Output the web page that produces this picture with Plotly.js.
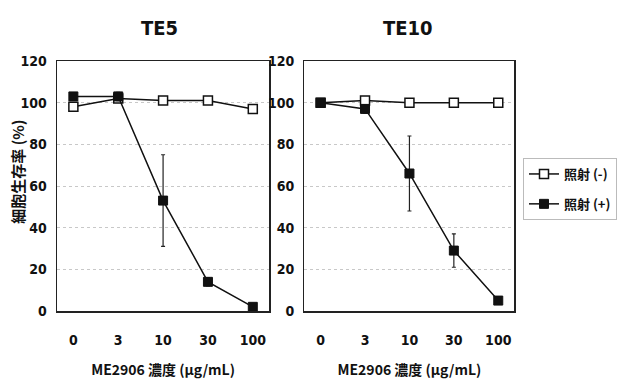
<!DOCTYPE html>
<html><head><meta charset="utf-8">
<script src="https://cdn.plot.ly/plotly-3.0.1.min.js"></script>
<style>html,body{margin:0;padding:0;background:#fff}</style>
</head><body>
<div id="chart" style="width:617px;height:381px"></div>
<script>
const categories = ["0", "3", "10", "30", "100"];
const panelTitles = ["TE5", "TE10"];
const seriesNames = ["照射 (-)", "照射 (+)"];
const te5Minus = [98, 102, 101, 101, 97];
const te5Plus = [103, 103, 53, 14, 2];
const te5PlusErr = [1, 2, 22, 2, 1];
const te10Minus = [100, 101, 100, 100, 100];
const te10Plus = [100, 97, 66, 29, 5];
const te10PlusErr = [1, 2, 18, 8, 1];
const yTicks = [0, 20, 40, 60, 80, 100, 120];

const numFam = "DejaVu Sans Condensed, DejaVu Sans, sans-serif";
const tickFont = {family: numFam, size: 14, color: "#111", weight: "bold"};
const cjkFont = "Noto Sans CJK JP, Noto Sans, sans-serif";

function minusTrace(y, xa, ya, show) {
  return {x: categories, y: y, xaxis: xa, yaxis: ya, name: seriesNames[0], showlegend: show,
    legendgroup: "minus",
    mode: "lines+markers", type: "scatter",
    line: {color: "#111", width: 1.5},
    marker: {symbol: "square", size: 9, color: "#fff", line: {color: "#111", width: 1.5}}};
}
function plusTrace(y, err, xa, ya, show) {
  return {x: categories, y: y, xaxis: xa, yaxis: ya, name: seriesNames[1], showlegend: show,
    legendgroup: "plus",
    mode: "lines+markers", type: "scatter",
    line: {color: "#111", width: 1.5},
    marker: {symbol: "square", size: 9, color: "#111", line: {color: "#111", width: 1}},
    error_y: {type: "data", array: err, visible: true, color: "#222", thickness: 1.2, width: 2}};
}

const data = [
  minusTrace(te5Minus, "x", "y", true),
  plusTrace(te5Plus, te5PlusErr, "x", "y", true),
  minusTrace(te10Minus, "x2", "y2", false),
  plusTrace(te10Plus, te10PlusErr, "x2", "y2", false)
];

function xAxis(domain, anchor) {
  return {domain: domain, anchor: anchor, type: "category", showgrid: false,
    showline: true, linecolor: "#222", linewidth: 1.5, mirror: true,
    ticks: "outside", ticklen: 0, ticklabelstandoff: 16, tickfont: tickFont,
    title: {text: "ME2906 濃度 (μg/mL)", font: {family: cjkFont, size: 14, color: "#111", weight: "bold"}, standoff: 18},
    zeroline: false, fixedrange: true};
}
function yAxis(domain, anchor) {
  return {domain: domain, anchor: anchor, range: [0, 120], tickvals: yTicks,
    showgrid: true, gridcolor: "#c8c8c8", griddash: "dot", gridwidth: 1,
    showline: true, linecolor: "#222", linewidth: 1.5, mirror: true,
    zeroline: false, ticks: "", tickfont: tickFont, ticklabelstandoff: 6, fixedrange: true};
}

const yDom = [1 - 311/381, 1 - 61/381];
const layout = {
  width: 617, height: 381,
  margin: {l: 0, r: 0, t: 0, b: 0},
  paper_bgcolor: "#fff", plot_bgcolor: "#fff",
  xaxis: xAxis([58/617, 273/617], "y"),
  yaxis: yAxis(yDom, "x"),
  xaxis2: xAxis([309/617, 522/617], "y2"),
  yaxis2: yAxis(yDom, "x2"),
  showlegend: true,
  legend: {x: 531/617, y: 1 - 158/381, xanchor: "left", yanchor: "top",
    bordercolor: "#bbb", borderwidth: 1, bgcolor: "#fff",
    font: {family: cjkFont, size: 13, color: "#111", weight: "bold"}, itemwidth: 30, tracegroupgap: 10},
  annotations: [
    {text: panelTitles[0], xref: "paper", yref: "paper", x: 162/617, y: 1 - 28/381,
     xanchor: "center", yanchor: "middle",
     showarrow: false, font: {family: numFam, size: 20, color: "#111", weight: "bold"}},
    {text: panelTitles[1], xref: "paper", yref: "paper", x: 414/617, y: 1 - 28/381,
     xanchor: "center", yanchor: "middle",
     showarrow: false, font: {family: numFam, size: 20, color: "#111", weight: "bold"}},
    {text: "細胞生存率 (%)", xref: "paper", yref: "paper", x: 18/617, y: 1 - 172/381,
     xanchor: "center", yanchor: "middle",
     showarrow: false, textangle: -90, font: {family: cjkFont, size: 15, color: "#111", weight: "bold"}}
  ]
};

Plotly.newPlot("chart", data, layout, {staticPlot: true, displayModeBar: false});
</script>
</body></html>
